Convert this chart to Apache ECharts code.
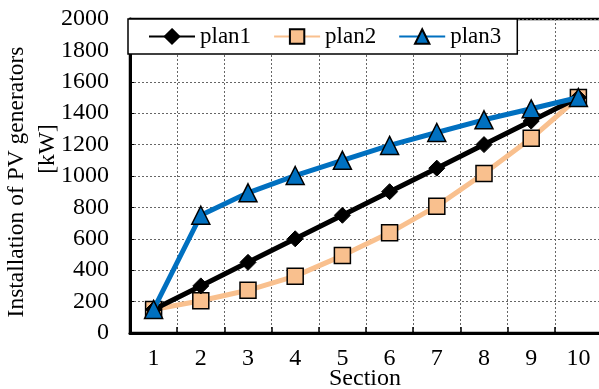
<!DOCTYPE html>
<html>
<head>
<meta charset="utf-8">
<script src="https://cdn.jsdelivr.net/npm/echarts@6/dist/echarts.min.js"></script>
<style>html,body{margin:0;padding:0;background:#fff;}#c{width:599px;height:389px;}</style>
</head>
<body>
<div id="c"></div>
<script>
const sections = ['1','2','3','4','5','6','7','8','9','10'];
const plan1 = [150, 300, 450, 600, 750, 900, 1050, 1200, 1350, 1500];
const plan2 = [150, 205, 272, 362, 493, 638, 808, 1016, 1240, 1500];
const plan3 = [150, 750, 893, 1003, 1100, 1195, 1277, 1358, 1428, 1500];

const font = '"Liberation Serif", "Times New Roman", serif';
const chart = echarts.init(document.getElementById('c'));
chart.setOption({
  animation: false,
  backgroundColor: '#fff',
  textStyle: {fontFamily: font},
  grid: {left: 130, right: -3, top: 19, bottom: 56, show: true, borderColor: '#000', borderWidth: 2.5, backgroundColor: 'transparent', outerBoundsMode: 'none', containLabel: false},
  legend: {
    left: 128, top: 19, orient: 'horizontal',
    backgroundColor: '#fff', borderColor: '#000', borderWidth: 1.5, borderRadius: 0,
    padding: [6, 16, 6, 20], itemGap: 22, itemWidth: 46, itemHeight: 18,
    textStyle: {fontFamily: font, fontSize: 23, color: '#000'},
    data: ['plan1', 'plan2', 'plan3']
  },
  xAxis: {
    type: 'category', data: sections, boundaryGap: true,
    axisLine: {lineStyle: {color: '#000', width: 3}},
    axisTick: {show: true, inside: true, length: 6, lineStyle: {color: '#000', width: 1.5}},
    axisLabel: {color: '#000', fontSize: 24, fontFamily: font, margin: 14},
    splitLine: {show: true, lineStyle: {color: '#666', type: [2, 2], width: 1}}
  },
  yAxis: {
    type: 'value', min: 0, max: 2000, interval: 200,
    axisLine: {show: true, lineStyle: {color: '#000', width: 3}},
    axisTick: {show: true, inside: true, length: 4, lineStyle: {color: '#000'}},
    axisLabel: {color: '#000', fontSize: 24, fontFamily: font, margin: 21, formatter: v => String(v)},
    splitLine: {show: true, lineStyle: {color: '#666', type: [2, 2], width: 1}}
  },
  graphic: [
    {type: 'text', left: 329, top: 367, style: {text: 'Section', fontSize: 24, fontFamily: font, fill: '#000'}},
    {type: 'text', x: 17, y: 182, rotation: Math.PI / 2,
     style: {text: 'Installation of PV generators', fontSize: 23.5, fontFamily: font, fill: '#000', align: 'center', verticalAlign: 'middle'}},
    {type: 'text', x: 48, y: 149, rotation: Math.PI / 2,
     style: {text: '[kW]', fontSize: 23.5, fontFamily: font, fill: '#000', align: 'center', verticalAlign: 'middle'}}
  ],
  series: [
    {name: 'plan1', type: 'line', data: plan1, symbol: 'diamond', symbolSize: 16,
     lineStyle: {color: '#000', width: 5}, itemStyle: {color: '#000', borderColor: '#000', borderWidth: 1}, z: 3},
    {name: 'plan2', type: 'line', data: plan2, symbol: 'rect', symbolSize: 16,
     lineStyle: {color: '#F9C08E', width: 5}, itemStyle: {color: '#F9C08E', borderColor: '#000', borderWidth: 1.5}, z: 2},
    {name: 'plan3', type: 'line', data: plan3, symbol: 'triangle', symbolSize: 18,
     lineStyle: {color: '#0070C0', width: 5}, itemStyle: {color: '#0070C0', borderColor: '#000', borderWidth: 1.5}, z: 4}
  ]
});
</script>
</body>
</html>
